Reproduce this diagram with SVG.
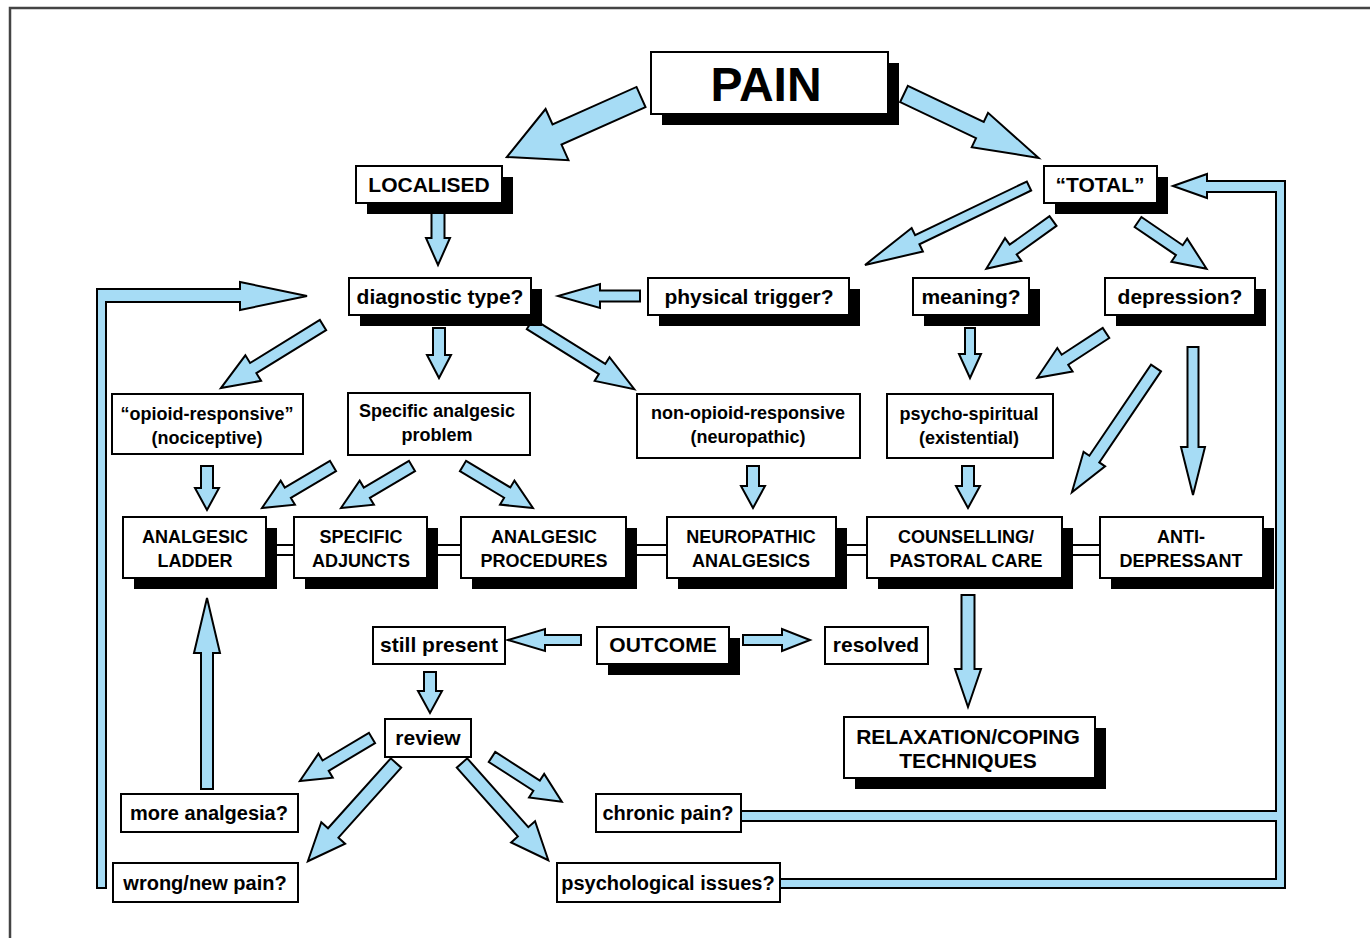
<svg xmlns="http://www.w3.org/2000/svg" width="1370" height="938" viewBox="0 0 1370 938">
<style>
.bx{fill:#fff;stroke:#000;stroke-width:2}
.sh{fill:#000}
.ar{fill:#a6dcf5;stroke:#000;stroke-width:2;stroke-linejoin:miter}
.t{font-family:"Liberation Sans",Arial,Helvetica,sans-serif;font-weight:bold;text-anchor:middle;fill:#000}
.s21{font-size:21px}
.s20{font-size:20px}
.s18{font-size:18px}
</style>
<rect width="1370" height="938" fill="#fff"/>
<path d="M10,938V8H1370" fill="none" stroke="#444" stroke-width="2.5"/>
<g id="connectors">
<rect x="130" y="545" width="1135" height="10" class="bx"/>
<path class="ar" d="M307,296L240,282V289H97V888H106V302H240V310Z"/>
<path class="ar" d="M1173,186L1207,174V181H1285V888H780V879H1276V821H741V811H1276V192H1207V198Z"/>
<path class="ar" transform="translate(641,97) rotate(155.9)" d="M0,-11H92V-28L147,0L92,28V11H0Z"/>
<path class="ar" transform="translate(904,94) rotate(25.4)" d="M0,-9H84V-19L149,0L84,19V9H0Z"/>
<path class="ar" transform="translate(438,213) rotate(90)" d="M0,-6.5H25V-12L52,0L25,12V6.5H0Z"/>
<path class="ar" transform="translate(640,296) rotate(180)" d="M0,-5.5H40V-12L82,0L40,12V5.5H0Z"/>
<path class="ar" transform="translate(1029,186) rotate(154.3)" d="M0,-5H124V-13L182,0L124,13V5H0Z"/>
<path class="ar" transform="translate(1053,221) rotate(144.4)" d="M0,-6H49V-14L82,0L49,14V6H0Z"/>
<path class="ar" transform="translate(1138,222) rotate(34.3)" d="M0,-6H50V-14L83,0L50,14V6H0Z"/>
<path class="ar" transform="translate(970,328) rotate(90)" d="M0,-5H26V-11L50,0L26,11V5H0Z"/>
<path class="ar" transform="translate(1106,333) rotate(146.9)" d="M0,-6H49V-14L82,0L49,14V6H0Z"/>
<path class="ar" transform="translate(1193,347) rotate(90)" d="M0,-5.5H100V-12L148,0L100,12V5.5H0Z"/>
<path class="ar" transform="translate(1156,368) rotate(124.1)" d="M0,-6H110V-13L150,0L110,13V6H0Z"/>
<path class="ar" transform="translate(323,325) rotate(148.3)" d="M0,-6H82V-15L120,0L82,15V6H0Z"/>
<path class="ar" transform="translate(439,328) rotate(90)" d="M0,-6H27V-12L50,0L27,12V6H0Z"/>
<path class="ar" transform="translate(530,324) rotate(32)" d="M0,-6H85V-14L123,0L85,14V6H0Z"/>
<path class="ar" transform="translate(207,466) rotate(90)" d="M0,-6H22V-12L44,0L22,12V6H0Z"/>
<path class="ar" transform="translate(333,466) rotate(149.4)" d="M0,-6H52.5V-14L82.5,0L52.5,14V6H0Z"/>
<path class="ar" transform="translate(412,466) rotate(149.4)" d="M0,-6H52.5V-14L82.5,0L52.5,14V6H0Z"/>
<path class="ar" transform="translate(463,466) rotate(31)" d="M0,-6H51.6V-14L81.6,0L51.6,14V6H0Z"/>
<path class="ar" transform="translate(753,466) rotate(90)" d="M0,-6H20V-12L42,0L20,12V6H0Z"/>
<path class="ar" transform="translate(968,466) rotate(90)" d="M0,-6H20V-12L42,0L20,12V6H0Z"/>
<path class="ar" transform="translate(968,595) rotate(90)" d="M0,-6.5H74V-13L112,0L74,13V6.5H0Z"/>
<path class="ar" transform="translate(581,640) rotate(180)" d="M0,-5H36V-11L73,0L36,11V5H0Z"/>
<path class="ar" transform="translate(743,640)" d="M0,-5H39V-11L67,0L39,11V5H0Z"/>
<path class="ar" transform="translate(430,672) rotate(90)" d="M0,-6H19V-12L41,0L19,12V6H0Z"/>
<path class="ar" transform="translate(372,738) rotate(149.2)" d="M0,-6H54V-14L84,0L54,14V6H0Z"/>
<path class="ar" transform="translate(396,763) rotate(131.9)" d="M0,-7H94V-16L132,0L94,16V7H0Z"/>
<path class="ar" transform="translate(462,763) rotate(48.4)" d="M0,-7H92V-16L130,0L92,16V7H0Z"/>
<path class="ar" transform="translate(492,757) rotate(32.7)" d="M0,-6H53V-14L83,0L53,14V6H0Z"/>
<path class="ar" transform="translate(207,789) rotate(-90)" d="M0,-6H136V-13L191,0L136,13V6H0Z"/>
</g>
<g id="pain"><rect class="sh" x="662" y="63" width="237" height="62"/><rect class="bx" x="651" y="52" width="237" height="62"/><text class="t" x="766" y="101" font-size="48">PAIN</text></g>
<g id="localised"><rect class="sh" x="367" y="177" width="146" height="37"/><rect class="bx" x="356" y="166" width="146" height="37"/><text class="t s21" x="429" y="192">LOCALISED</text></g>
<g id="total"><rect class="sh" x="1055" y="177" width="113" height="37"/><rect class="bx" x="1044" y="166" width="113" height="37"/><text class="t s21" x="1100" y="192">“TOTAL”</text></g>
<g id="diagnostic"><rect class="sh" x="360" y="289" width="182" height="37"/><rect class="bx" x="349" y="278" width="182" height="37"/><text class="t s21" x="440" y="304">diagnostic type?</text></g>
<g id="physical"><rect class="sh" x="659" y="289" width="201" height="37"/><rect class="bx" x="648" y="278" width="201" height="37"/><text class="t s21" x="749" y="304">physical trigger?</text></g>
<g id="meaning"><rect class="sh" x="924" y="289" width="116" height="37"/><rect class="bx" x="913" y="278" width="116" height="37"/><text class="t s21" x="971" y="304">meaning?</text></g>
<g id="depression"><rect class="sh" x="1116" y="289" width="150" height="37"/><rect class="bx" x="1105" y="278" width="150" height="37"/><text class="t s21" x="1180" y="304">depression?</text></g>
<g id="opioid"><rect class="bx" x="112" y="394" width="191" height="60"/><text class="t s18" x="207" y="420">“opioid-responsive”</text><text class="t s18" x="207" y="444">(nociceptive)</text></g>
<g id="specific"><rect class="bx" x="348" y="393" width="182" height="62"/><text class="t s18" x="437" y="417">Specific analgesic</text><text class="t s18" x="437" y="441">problem</text></g>
<g id="nonopioid"><rect class="bx" x="637" y="394" width="223" height="64"/><text class="t s18" x="748" y="419">non-opioid-responsive</text><text class="t s18" x="748" y="443">(neuropathic)</text></g>
<g id="psycho"><rect class="bx" x="887" y="394" width="166" height="64"/><text class="t s18" x="969" y="420">psycho-spiritual</text><text class="t s18" x="969" y="444">(existential)</text></g>
<g id="ladder"><rect class="sh" x="134" y="528" width="143" height="61"/><rect class="bx" x="123" y="517" width="143" height="61"/><text class="t s18" x="195" y="543">ANALGESIC</text><text class="t s18" x="195" y="567">LADDER</text></g>
<g id="adjuncts"><rect class="sh" x="305" y="528" width="133" height="61"/><rect class="bx" x="294" y="517" width="133" height="61"/><text class="t s18" x="361" y="543">SPECIFIC</text><text class="t s18" x="361" y="567">ADJUNCTS</text></g>
<g id="procedures"><rect class="sh" x="472" y="528" width="165" height="61"/><rect class="bx" x="461" y="517" width="165" height="61"/><text class="t s18" x="544" y="543">ANALGESIC</text><text class="t s18" x="544" y="567">PROCEDURES</text></g>
<g id="neuropathic"><rect class="sh" x="678" y="528" width="169" height="61"/><rect class="bx" x="667" y="517" width="169" height="61"/><text class="t s18" x="751" y="543">NEUROPATHIC</text><text class="t s18" x="751" y="567">ANALGESICS</text></g>
<g id="counselling"><rect class="sh" x="878" y="528" width="195" height="61"/><rect class="bx" x="867" y="517" width="195" height="61"/><text class="t s18" x="966" y="543">COUNSELLING/</text><text class="t s18" x="966" y="567">PASTORAL CARE</text></g>
<g id="antidepressant"><rect class="sh" x="1111" y="528" width="163" height="61"/><rect class="bx" x="1100" y="517" width="163" height="61"/><text class="t s18" x="1181" y="543">ANTI-</text><text class="t s18" x="1181" y="567">DEPRESSANT</text></g>
<g id="stillpresent"><rect class="bx" x="373" y="627" width="132" height="37"/><text class="t s21" x="439" y="652">still present</text></g>
<g id="outcome"><rect class="sh" x="608" y="638" width="132" height="37"/><rect class="bx" x="597" y="627" width="132" height="37"/><text class="t s21" x="663" y="652">OUTCOME</text></g>
<g id="resolved"><rect class="bx" x="825" y="627" width="103" height="37"/><text class="t s21" x="876" y="652">resolved</text></g>
<g id="review"><rect class="bx" x="385" y="719" width="86" height="38"/><text class="t s21" x="428" y="745">review</text></g>
<g id="relaxation"><rect class="sh" x="855" y="728" width="251" height="61"/><rect class="bx" x="844" y="717" width="251" height="61"/><text class="t s21" x="968" y="744">RELAXATION/COPING</text><text class="t s21" x="968" y="768">TECHNIQUES</text></g>
<g id="moreanalgesia"><rect class="bx" x="121" y="794" width="177" height="38"/><text class="t s20" x="209" y="820">more analgesia?</text></g>
<g id="chronic"><rect class="bx" x="596" y="794" width="145" height="38"/><text class="t s20" x="668" y="820">chronic pain?</text></g>
<g id="wrongnew"><rect class="bx" x="113" y="863" width="185" height="39"/><text class="t s20" x="205" y="890">wrong/new pain?</text></g>
<g id="psychological"><rect class="bx" x="557" y="863" width="223" height="39"/><text class="t s20" x="668" y="890">psychological issues?</text></g>
</svg>
